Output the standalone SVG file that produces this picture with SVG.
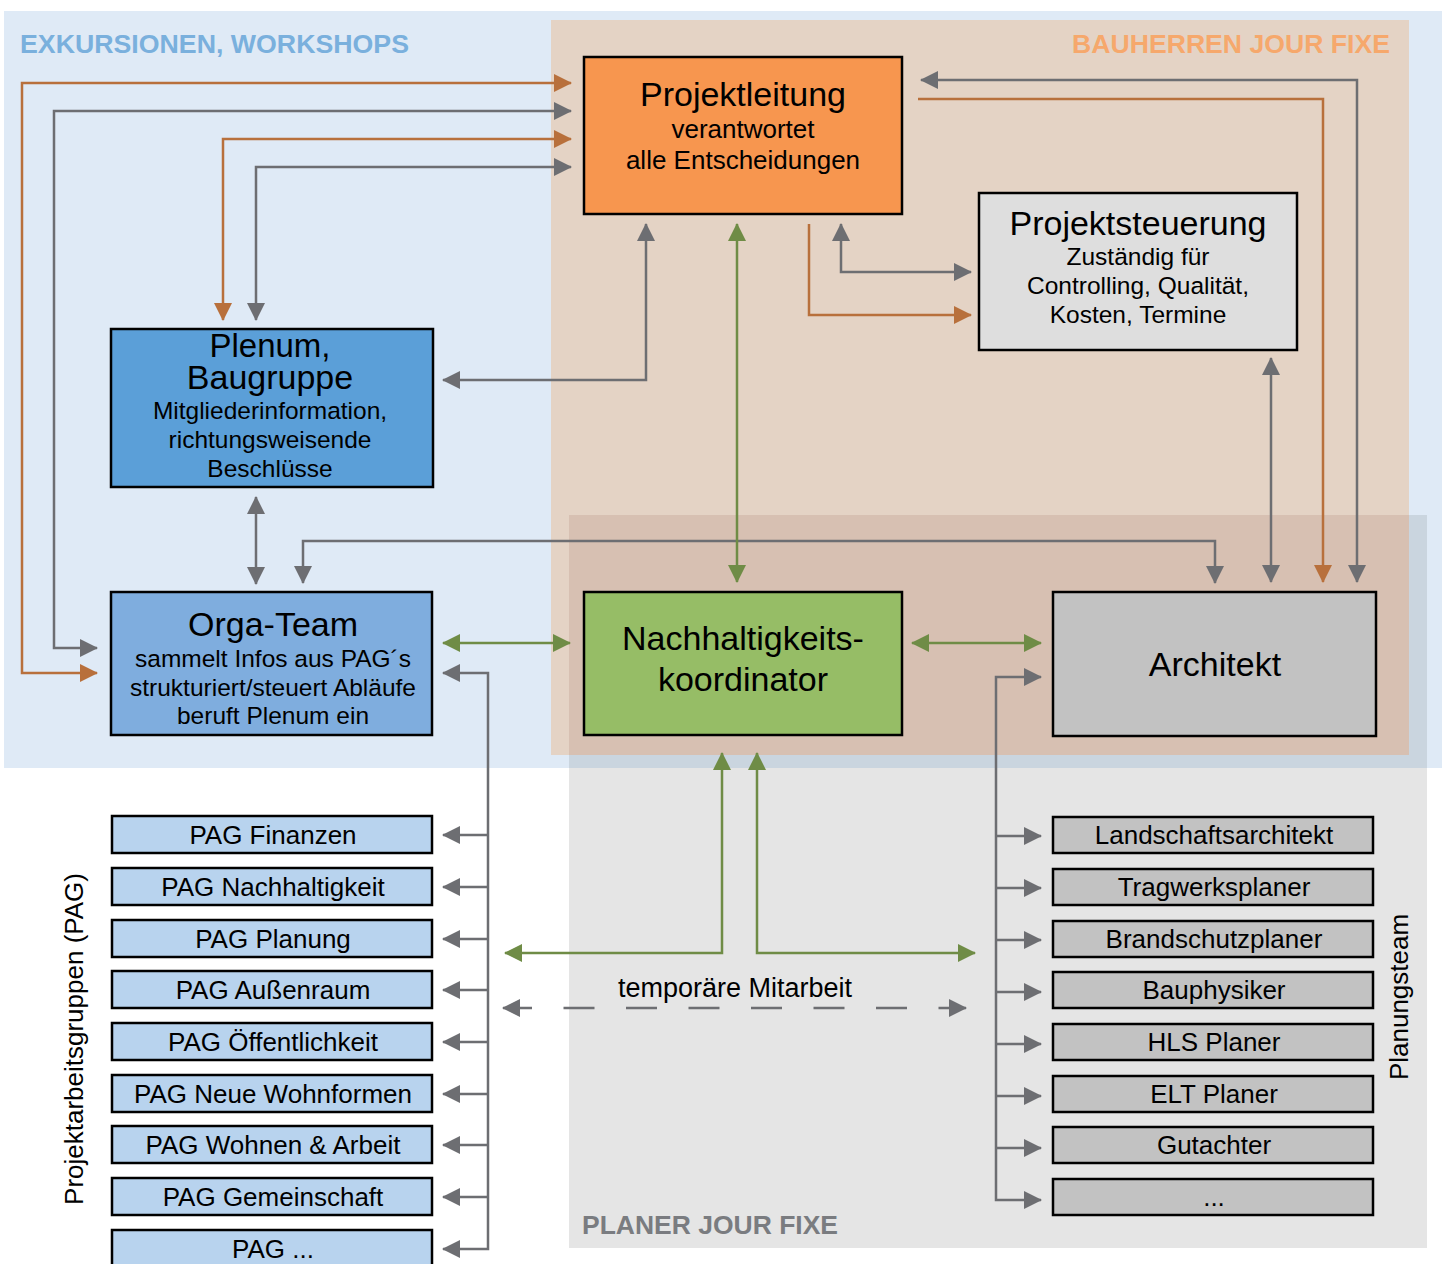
<svg xmlns="http://www.w3.org/2000/svg" width="1447" height="1264" viewBox="0 0 1447 1264">
<style>
text{font-family:"Liberation Sans",Arial,Helvetica,sans-serif;fill:#000}
.hd{font-weight:bold;font-size:26px}
.t{font-size:34px;text-anchor:middle}
.s{font-size:24.5px;text-anchor:middle}
.s2{font-size:26px;text-anchor:middle}
.li{font-size:26px;text-anchor:middle}
.box{stroke:#000;stroke-width:2.5}
.cg{fill:none;stroke:#6d6e72;stroke-width:2.5}
.co{fill:none;stroke:#b8703c;stroke-width:2.5}
.cn{fill:none;stroke:#6f8c46;stroke-width:2.5}
</style>
<defs>
<marker id="mg" markerUnits="userSpaceOnUse" markerWidth="18" markerHeight="18" refX="17" refY="9" orient="auto-start-reverse"><path d="M0,0 L18,9 L0,18 Z" fill="#6d6e72"/></marker>
<marker id="mo" markerUnits="userSpaceOnUse" markerWidth="18" markerHeight="18" refX="17" refY="9" orient="auto-start-reverse"><path d="M0,0 L18,9 L0,18 Z" fill="#b8703c"/></marker>
<marker id="mn" markerUnits="userSpaceOnUse" markerWidth="18" markerHeight="18" refX="17" refY="9" orient="auto-start-reverse"><path d="M0,0 L18,9 L0,18 Z" fill="#6f8c46"/></marker>
</defs>

<g id="regions">
<rect x="4" y="11" width="1438" height="757" fill="#dfeaf6"/>
<rect x="551" y="20" width="858" height="735" fill="#e4d3c5"/>
<rect x="569" y="515" width="858" height="733" fill="#e5e5e5"/>
<rect x="569" y="515" width="840" height="240" fill="#d7c0b2"/>
<rect x="1409" y="515" width="18" height="253" fill="#cad5df"/>
<rect x="569" y="755" width="840" height="13" fill="#cad5df"/>
<text class="hd" x="20" y="53" textLength="389" lengthAdjust="spacingAndGlyphs" style="fill:#7ab0dd">EXKURSIONEN, WORKSHOPS</text>
<text class="hd" x="1072" y="53" textLength="318" lengthAdjust="spacingAndGlyphs" style="fill:#f6a86c">BAUHERREN JOUR FIXE</text>
<text class="hd" x="582" y="1234" textLength="256" lengthAdjust="spacingAndGlyphs" style="fill:#7a7c80">PLANER JOUR FIXE</text>
<text x="0" y="0" font-size="26" text-anchor="middle" transform="translate(83,1039) rotate(-90)">Projektarbeitsgruppen (PAG)</text>
<text x="0" y="0" font-size="26" text-anchor="middle" transform="translate(1408,997) rotate(-90)">Planungsteam</text>
</g>

<g id="connectors">
<path class="cg" d="M97,648 H54 V111 H571" marker-start="url(#mg)" marker-end="url(#mg)"/>
<path class="cg" d="M256,320 V167 H571" marker-start="url(#mg)" marker-end="url(#mg)"/>
<path class="cg" d="M443,380 H646 V224" marker-start="url(#mg)" marker-end="url(#mg)"/>
<path class="cg" d="M841,224 V272 H971" marker-start="url(#mg)" marker-end="url(#mg)"/>
<path class="cg" d="M921,80 H1357 V582" marker-start="url(#mg)" marker-end="url(#mg)"/>
<path class="cg" d="M1271,358 V582" marker-start="url(#mg)" marker-end="url(#mg)"/>
<path class="cg" d="M303,583 V541 H1215 V583" marker-start="url(#mg)" marker-end="url(#mg)"/>
<path class="cg" d="M256,497 V584" marker-start="url(#mg)" marker-end="url(#mg)"/>
<path class="co" d="M97,673 H22 V83 H571" marker-start="url(#mo)" marker-end="url(#mo)"/>
<path class="co" d="M223,320 V139 H571" marker-start="url(#mo)" marker-end="url(#mo)"/>
<path class="co" d="M809,224 V315 H971" marker-end="url(#mo)"/>
<path class="co" d="M918,99 H1323 V582" marker-end="url(#mo)"/>
<path class="cn" d="M737,224 V582" marker-start="url(#mn)" marker-end="url(#mn)"/>
<path class="cn" d="M443,643 H570" marker-start="url(#mn)" marker-end="url(#mn)"/>
<path class="cn" d="M912,643 H1041" marker-start="url(#mn)" marker-end="url(#mn)"/>
<path class="cn" d="M505,953 H722 V753" marker-start="url(#mn)" marker-end="url(#mn)"/>
<path class="cn" d="M975,953 H757 V753" marker-start="url(#mn)" marker-end="url(#mn)"/>
<path class="cg" d="M503,1008 H966" stroke-dasharray="31 31.5" stroke-dashoffset="2" marker-start="url(#mg)" marker-end="url(#mg)"/>
<path class="cg" d="M443,673 H488 V1249 H443" marker-start="url(#mg)" marker-end="url(#mg)"/>
<path class="cg" d="M488,835 H443" marker-end="url(#mg)"/>
<path class="cg" d="M488,887 H443" marker-end="url(#mg)"/>
<path class="cg" d="M488,939 H443" marker-end="url(#mg)"/>
<path class="cg" d="M488,990 H443" marker-end="url(#mg)"/>
<path class="cg" d="M488,1042 H443" marker-end="url(#mg)"/>
<path class="cg" d="M488,1094 H443" marker-end="url(#mg)"/>
<path class="cg" d="M488,1145 H443" marker-end="url(#mg)"/>
<path class="cg" d="M488,1197 H443" marker-end="url(#mg)"/>
<path class="cg" d="M1041,677 H996 V1200 H1041" marker-start="url(#mg)" marker-end="url(#mg)"/>
<path class="cg" d="M996,836 H1041" marker-end="url(#mg)"/>
<path class="cg" d="M996,888 H1041" marker-end="url(#mg)"/>
<path class="cg" d="M996,940 H1041" marker-end="url(#mg)"/>
<path class="cg" d="M996,992 H1041" marker-end="url(#mg)"/>
<path class="cg" d="M996,1044 H1041" marker-end="url(#mg)"/>
<path class="cg" d="M996,1096 H1041" marker-end="url(#mg)"/>
<path class="cg" d="M996,1148 H1041" marker-end="url(#mg)"/>
<text x="735" y="997" font-size="27" text-anchor="middle">temporäre Mitarbeit</text>
</g>

<g id="projektleitung">
<rect class="box" x="584" y="57" width="318" height="157" fill="#f7964f"/>
<text class="t" x="743" y="106">Projektleitung</text>
<text class="s2" x="743" y="138">verantwortet</text>
<text class="s2" x="743" y="169">alle Entscheidungen</text>
</g>

<g id="projektsteuerung">
<rect class="box" x="979" y="193" width="318" height="157" fill="#dedede"/>
<text class="t" x="1138" y="235">Projektsteuerung</text>
<text class="s" x="1138" y="265">Zuständig für</text>
<text class="s" x="1138" y="294">Controlling, Qualität,</text>
<text class="s" x="1138" y="323">Kosten, Termine</text>
</g>

<g id="plenum">
<rect class="box" x="111" y="329" width="322" height="158" fill="#5b9fd8"/>
<text class="t" x="270" y="357" font-size="33" style="font-size:33px">Plenum,</text>
<text class="t" x="270" y="389">Baugruppe</text>
<text class="s" x="270" y="419">Mitgliederinformation,</text>
<text class="s" x="270" y="448">richtungsweisende</text>
<text class="s" x="270" y="477">Beschlüsse</text>
</g>

<g id="orga-team">
<rect class="box" x="111" y="592" width="321" height="143" fill="#7fadde"/>
<text class="t" x="273" y="636">Orga-Team</text>
<text class="s" x="273" y="667">sammelt Infos aus PAG´s</text>
<text class="s" x="273" y="696">strukturiert/steuert Abläufe</text>
<text class="s" x="273" y="724">beruft Plenum ein</text>
</g>

<g id="nachhaltigkeitskoordinator">
<rect class="box" x="584" y="592" width="318" height="143" fill="#96bd66"/>
<text class="t" x="743" y="650">Nachhaltigkeits-</text>
<text class="t" x="743" y="691">koordinator</text>
</g>

<g id="architekt">
<rect class="box" x="1053" y="592" width="323" height="144" fill="#c2c2c2"/>
<text class="t" x="1215" y="676">Architekt</text>
</g>

<g id="pag-finanzen"><rect class="box" x="112" y="816" width="320" height="37" fill="#b8d3ee"/><text class="li" x="273" y="844">PAG Finanzen</text></g>
<g id="pag-nachhaltigkeit"><rect class="box" x="112" y="868" width="320" height="37" fill="#b8d3ee"/><text class="li" x="273" y="896">PAG Nachhaltigkeit</text></g>
<g id="pag-planung"><rect class="box" x="112" y="920" width="320" height="37" fill="#b8d3ee"/><text class="li" x="273" y="948">PAG Planung</text></g>
<g id="pag-aussenraum"><rect class="box" x="112" y="971" width="320" height="37" fill="#b8d3ee"/><text class="li" x="273" y="999">PAG Außenraum</text></g>
<g id="pag-oeffentlichkeit"><rect class="box" x="112" y="1023" width="320" height="37" fill="#b8d3ee"/><text class="li" x="273" y="1051">PAG Öffentlichkeit</text></g>
<g id="pag-neue-wohnformen"><rect class="box" x="112" y="1075" width="320" height="37" fill="#b8d3ee"/><text class="li" x="273" y="1103">PAG Neue Wohnformen</text></g>
<g id="pag-wohnen-arbeit"><rect class="box" x="112" y="1126" width="320" height="37" fill="#b8d3ee"/><text class="li" x="273" y="1154">PAG Wohnen &amp; Arbeit</text></g>
<g id="pag-gemeinschaft"><rect class="box" x="112" y="1178" width="320" height="37" fill="#b8d3ee"/><text class="li" x="273" y="1206">PAG Gemeinschaft</text></g>
<g id="pag-more"><rect class="box" x="112" y="1230" width="320" height="37" fill="#b8d3ee"/><text class="li" x="273" y="1258">PAG ...</text></g>

<g id="landschaftsarchitekt"><rect class="box" x="1053" y="817" width="320" height="36" fill="#c2c2c2"/><text class="li" x="1214" y="844">Landschaftsarchitekt</text></g>
<g id="tragwerksplaner"><rect class="box" x="1053" y="869" width="320" height="36" fill="#c2c2c2"/><text class="li" x="1214" y="896">Tragwerksplaner</text></g>
<g id="brandschutzplaner"><rect class="box" x="1053" y="921" width="320" height="36" fill="#c2c2c2"/><text class="li" x="1214" y="948">Brandschutzplaner</text></g>
<g id="bauphysiker"><rect class="box" x="1053" y="972" width="320" height="36" fill="#c2c2c2"/><text class="li" x="1214" y="999">Bauphysiker</text></g>
<g id="hls-planer"><rect class="box" x="1053" y="1024" width="320" height="36" fill="#c2c2c2"/><text class="li" x="1214" y="1051">HLS Planer</text></g>
<g id="elt-planer"><rect class="box" x="1053" y="1076" width="320" height="36" fill="#c2c2c2"/><text class="li" x="1214" y="1103">ELT Planer</text></g>
<g id="gutachter"><rect class="box" x="1053" y="1127" width="320" height="36" fill="#c2c2c2"/><text class="li" x="1214" y="1154">Gutachter</text></g>
<g id="planer-more"><rect class="box" x="1053" y="1179" width="320" height="36" fill="#c2c2c2"/><text class="li" x="1214" y="1206">...</text></g>
</svg>
